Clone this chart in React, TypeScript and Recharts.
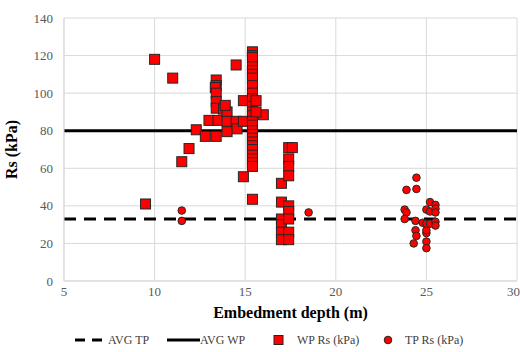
import React from "react";
import {
	CartesianGrid,
	Legend,
	ReferenceLine,
	Scatter,
	ScatterChart,
	XAxis,
	YAxis,
} from "recharts";

// WP Rs (kPa) – squares
const wpDepth = [
	9.5, 10, 11, 11.5, 11.9, 12.3, 12.8, 13.0, 13.4, 13.4, 13.35, 13.4, 13.4, 13.4,
	13.5, 13.4, 13.8, 14.0, 14.0, 14.0, 14.5, 14.5, 14.55, 14.9, 14.9, 14.9, 15.4,
	16.0, 13.9,
	15.4, 15.4, 15.4, 15.4, 15.4, 15.4, 15.4, 15.4, 15.4, 15.4, 15.4, 15.4, 15.4,
	15.4, 15.4, 15.4, 15.4, 15.4, 15.4, 15.4, 15.4, 15.4, 15.4, 15.4, 15.4, 15.6,
	15.6,
	17.0, 17.0, 17.0, 17.0, 17.0, 17.0, 17.4, 17.4, 17.4, 17.4, 17.4, 17.4, 17.4,
	17.4, 17.4, 17.6,
];
const wpRs = [
	41, 118, 108, 63.5, 70.5, 80.5, 77, 85.5, 107, 104, 103, 100, 95.5, 92,
	85.5, 77, 91.5, 90, 85, 79.5, 115, 85, 81, 85, 96, 55.5, 43.5,
	88.5, 93.5,
	122, 120, 119, 114, 112, 110, 108, 104, 100, 97, 93, 90, 88, 85, 83, 80, 78,
	76, 74, 72, 70, 67, 65, 63, 61, 96,
	90,
	52, 42, 33, 30, 26, 22, 71, 65, 61, 56, 40, 37, 33, 26, 22, 71,
];

// TP Rs (kPa) – circles
const tpDepth = [
	11.5, 11.5, 18.5, 23.8, 23.9, 23.8, 23.9, 24.45, 24.45, 24.4, 24.8, 24.4,
	24.45, 24.3, 25.0, 25.0, 25.0, 25.0, 25.0, 25.2, 25.2, 25.0, 25.2, 25.5, 25.5,
	25.5, 25.5, 25.5,
];
const tpRs = [
	37.5, 32, 36.5, 38, 36.5, 33, 48.5, 55, 49, 32, 31, 27, 24, 20, 21, 17.5,
	25.5, 27, 30.5, 30.5, 42, 38, 37, 40.5, 38.5, 36.5, 31.5, 29.5,
];

const avgTP = 33;
const avgWP = 80;

const xTicks = [5, 10, 15, 20, 25, 30];
const yTicks = [0, 20, 40, 60, 80, 100, 120, 140];

const wpData = wpDepth.map((x, i) => ({ x, y: wpRs[i] }));
const tpData = tpDepth.map((x, i) => ({ x, y: tpRs[i] }));

const FONT = "'Liberation Serif', 'Times New Roman', serif";
const tickStyle = { fontFamily: FONT, fontSize: 13, fill: "#595959", style: { fontFamily: FONT } };

const Square = (props: any) => {
	const { cx, cy } = props;
	if (cx == null || cy == null) return null;
	return (
		<rect
			x={cx - 5}
			y={cy - 5}
			width={10}
			height={10}
			fill="#ff0000"
			stroke="#262626"
			strokeWidth={1}
		/>
	);
};

const Dot = (props: any) => {
	const { cx, cy } = props;
	if (cx == null || cy == null) return null;
	return <circle cx={cx} cy={cy} r={3.8} fill="#ff0000" stroke="#262626" strokeWidth={1} />;
};

const LegendContent = () => (
	<svg width={520} height={25} style={{ display: "block", fontFamily: FONT }}>
		<g fontSize={12} fill="#404040" style={{ fontFamily: FONT }}>
			<line x1={75} x2={108} y1={13} y2={13} stroke="#000" strokeWidth={3} strokeDasharray="10 7" />
			<text x={108} y={17}>AVG TP</text>
			<line x1={167} x2={200} y1={13} y2={13} stroke="#000" strokeWidth={3} />
			<text x={200} y={17}>AVG WP</text>
			<rect x={274} y={8.5} width={9} height={9} fill="#ff0000" stroke="#262626" />
			<text x={297} y={17}>WP Rs (kPa)</text>
			<circle cx={388} cy={13} r={3.8} fill="#ff0000" stroke="#262626" />
			<text x={405} y={17}>TP Rs (kPa)</text>
		</g>
	</svg>
);

export default function App() {
	return (
		<div
			style={{
				position: "absolute",
				left: 0,
				top: 0,
				width: 520,
				height: 352,
				background: "#fff",
				fontFamily: FONT,
			}}
		>
			<ScatterChart
				width={520}
				height={352}
				margin={{ top: 18, right: 3, left: 0, bottom: 0 }}
				style={{ fontFamily: FONT }}
			>
				<CartesianGrid stroke="#d9d9d9" />
				<XAxis
					type="number"
					dataKey="x"
					domain={[5, 30]}
					ticks={xTicks}
					height={46}
					tickLine={false}
					axisLine={{ stroke: "#d9d9d9" }}
					tick={tickStyle}
					tickMargin={0}
					label={{
						value: "Embedment depth (m)",
						position: "insideBottom",
						offset: 9,
						style: { fontFamily: FONT, fontSize: 16, fontWeight: "bold", fill: "#000" },
					}}
				/>
				<YAxis
					type="number"
					dataKey="y"
					domain={[0, 140]}
					ticks={yTicks}
					width={64}
					tickLine={false}
					axisLine={{ stroke: "#d9d9d9" }}
					tick={tickStyle}
					tickMargin={5}
					label={{
						value: "Rs (kPa)",
						angle: -90,
						position: "insideLeft",
						offset: 11,
						style: { fontFamily: FONT, fontSize: 16, fontWeight: "bold", fill: "#000", textAnchor: "middle" },
					}}
				/>
				<ReferenceLine y={avgTP} stroke="#000" strokeWidth={3} strokeDasharray="12 8" />
				<ReferenceLine y={avgWP} stroke="#000" strokeWidth={3} />
				<Scatter name="WP Rs (kPa)" data={wpData} shape={Square} isAnimationActive={false} />
				<Scatter name="TP Rs (kPa)" data={tpData} shape={Dot} isAnimationActive={false} />
				<Legend
					verticalAlign="bottom"
					height={25}
					content={LegendContent}
					wrapperStyle={{ left: 0, width: 520 }}
				/>
			</ScatterChart>
		</div>
	);
}
